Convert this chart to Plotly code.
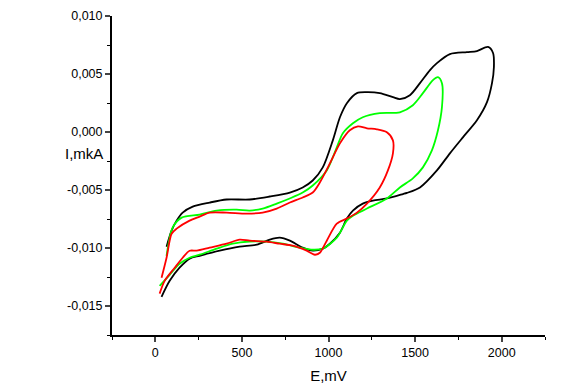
import plotly.graph_objects as go

# Black curve (potential mV, current mkA)
black_E = [65, 94, 123, 158, 216, 314, 412, 545, 661, 777, 851, 909, 967, 1025, 1066, 1106, 1164, 1222, 1296,
           1372, 1412, 1470, 1528, 1586, 1626, 1701, 1799, 1857, 1921, 1950, 1955, 1944, 1915, 1857, 1776, 1701,
           1626, 1528, 1453, 1430, 1337, 1256, 1198, 1141, 1106, 1066, 1008, 967, 909, 851, 777, 718, 661, 586,
           487, 372, 256, 198, 140, 83, 36]
black_I = [-0.00989, -0.00850, -0.00764, -0.00695, -0.00643, -0.00608, -0.00582, -0.00582, -0.00556, -0.00522,
           -0.00478, -0.00418, -0.00305, -0.00072, 0.00127, 0.00248, 0.00335, 0.00343, 0.00335, 0.00300, 0.00283,
           0.00317, 0.00421, 0.00534, 0.00594, 0.00672, 0.00689, 0.00698, 0.00733, 0.00681, 0.00560, 0.00421,
           0.00257, 0.00101, -0.00046, -0.00184, -0.00331, -0.00478, -0.00525, -0.00535, -0.00573, -0.00591,
           -0.00617, -0.00677, -0.00746, -0.00868, -0.00963, -0.01006, -0.01023, -0.00997, -0.00937, -0.00911,
           -0.00928, -0.00971, -0.00989, -0.01023, -0.01067, -0.01092, -0.01170, -0.01283, -0.01421]

# Green curve
green_E = [65, 100, 152, 256, 354, 470, 545, 620, 701, 776, 851, 909, 990, 1048, 1083, 1141, 1198, 1296, 1412,
           1487, 1545, 1603, 1632, 1655, 1655, 1632, 1597, 1545, 1487, 1412, 1337, 1222, 1141, 1106, 1048, 967,
           909, 834, 736, 643, 545, 447, 354, 256, 198, 140, 83, 25]
green_I = [-0.01067, -0.00824, -0.00738, -0.00712, -0.00677, -0.00669, -0.00677, -0.00660, -0.00617, -0.00573,
           -0.00522, -0.00461, -0.00331, -0.00132, -0.00011, 0.00075, 0.00127, 0.00162, 0.00170, 0.00231, 0.00335,
           0.00447, 0.00473, 0.00421, 0.00214, 0.00015, -0.00158, -0.00305, -0.00400, -0.00478, -0.00573,
           -0.00660, -0.00721, -0.00764, -0.00911, -0.01006, -0.01015, -0.00997, -0.00963, -0.00945, -0.00945,
           -0.00963, -0.01006, -0.01058, -0.01084, -0.01136, -0.01231, -0.01326]

# Red curve
red_E = [36, 65, 94, 123, 198, 256, 314, 412, 528, 620, 701, 777, 851, 909, 950, 1008, 1066, 1123, 1170, 1222,
         1279, 1337, 1372, 1372, 1343, 1296, 1222, 1164, 1106, 1048, 990, 950, 921, 874, 793, 718, 643, 545, 487,
         412, 314, 239, 198, 158, 112, 54, 25]
red_I = [-0.01257, -0.01084, -0.00877, -0.00833, -0.00764, -0.00729, -0.00695, -0.00695, -0.00703, -0.00695,
         -0.00660, -0.00608, -0.00565, -0.00522, -0.00435, -0.00271, -0.00098, 0.00015, 0.00049, 0.00032, 0.00023,
         -0.00003, -0.00072, -0.00184, -0.00331, -0.00478, -0.00617, -0.00695, -0.00746, -0.00790, -0.00937,
         -0.01041, -0.01058, -0.01023, -0.00980, -0.00963, -0.00945, -0.00937, -0.00928, -0.00963, -0.00997,
         -0.01023, -0.01024, -0.01084, -0.01170, -0.01283, -0.01393]

x_ticks = [0, 500, 1000, 1500, 2000]
y_ticks = [-0.015, -0.010, -0.005, 0.000, 0.005, 0.010]
y_tick_labels = ["-0,015", "-0,010", "-0,005", "0,000", "0,005", "0,010"]

fig = go.Figure()
for E, I, col in [(black_E, black_I, "#000000"), (green_E, green_I, "#00ff00"), (red_E, red_I, "#ff0000")]:
    fig.add_trace(go.Scatter(x=E, y=I, mode="lines",
                             line=dict(color=col, width=1.8, shape="spline", smoothing=0.8),
                             showlegend=False, hoverinfo="skip"))

font = "Liberation Sans, Arial, sans-serif"
L, R, T, B = 112, 21, 16, 53
fig.update_layout(
    width=566, height=388, autosize=False,
    margin=dict(l=L, r=R, t=T, b=B, autoexpand=False),
    plot_bgcolor="white", paper_bgcolor="white",
    font=dict(family=font, size=12.5, color="#000000"),
    separators=",.",
    xaxis=dict(range=[-250, 2250], tickvals=x_ticks, ticks="outside", ticklen=5, tickwidth=1.5,
               showline=True, linecolor="black", linewidth=2, showgrid=False, zeroline=False, automargin=False,
               minor=dict(dtick=250, tick0=0, ticks="outside", ticklen=3, tickwidth=1.2, tickcolor="black"),
               title=dict(text="E,mV", font=dict(size=15, family=font), standoff=11)),
    yaxis=dict(range=[-0.0175, 0.010], tickvals=y_ticks, ticktext=y_tick_labels, ticks="outside",
               ticklen=5, tickwidth=1.5, showline=True, linecolor="black", linewidth=2,
               showgrid=False, zeroline=False, automargin=False,
               minor=dict(dtick=0.0025, tick0=0, ticks="outside", ticklen=3, tickwidth=1.2, tickcolor="black")),
)
pw, ph = 566 - L - R, 388 - T - B
fig.add_annotation(text="I,mkA", x=(63 - L) / pw, y=(388 - B - 153) / ph, xref="paper", yref="paper",
                   showarrow=False, font=dict(size=15, family=font), xanchor="left", yanchor="middle")

fig.write_html("out.html", config={"displayModeBar": False},
               post_script="document.body.style.margin='0';document.body.style.overflow='hidden';")
